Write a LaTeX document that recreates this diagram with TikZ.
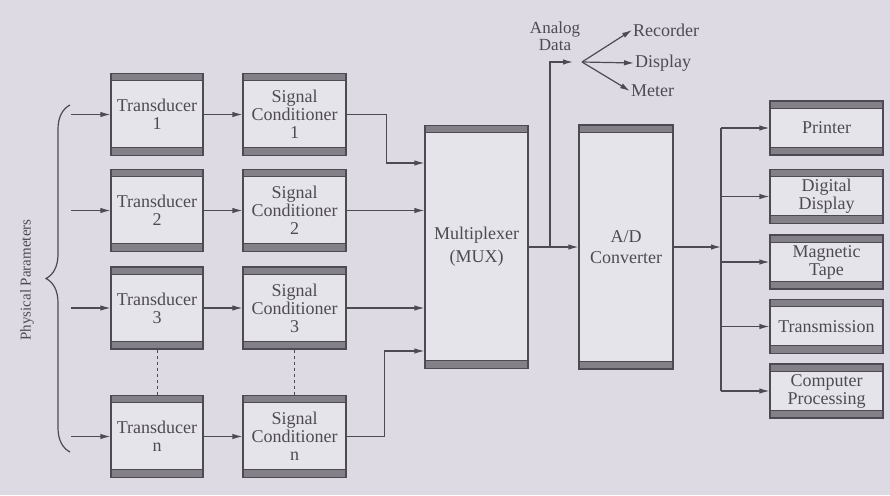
\documentclass[tikz,border=0pt]{standalone}
\usepackage{fontspec}
\setmainfont{Liberation Serif}
\usetikzlibrary{arrows.meta,positioning,calc,decorations.pathreplacing}
\definecolor{daqBg}{RGB}{221,218,228}
\definecolor{daqBox}{RGB}{230,228,235}
\definecolor{daqBand}{RGB}{132,128,136}
\definecolor{daqInk}{RGB}{78,74,84}
\begin{document}
\begin{tikzpicture}[
  x=1pt, y=-1pt,
  font=\fontsize{18}{18}\selectfont,
  every node/.style={text=daqInk},
  arr/.style={-{Latex[length=10pt,width=5.5pt]}, draw=daqInk, line width=1.2pt},
  daqbox/.style={draw=daqInk, line width=1.2pt, fill=daqBox, align=center, inner sep=0pt,
    path picture={
      \fill[daqBand] (path picture bounding box.north west) rectangle ([yshift=-7pt]path picture bounding box.north east);
      \fill[daqBand] (path picture bounding box.south west) rectangle ([yshift=8pt]path picture bounding box.south east);
      \draw[daqInk, line width=0.8pt] ([yshift=-7pt]path picture bounding box.north west) -- ([yshift=-7pt]path picture bounding box.north east);
      \draw[daqInk, line width=0.8pt] ([yshift=8pt]path picture bounding box.south west) -- ([yshift=8pt]path picture bounding box.south east);
    }}
]
% pixel grid of the reference: 890 x 495
\fill[daqBg] (0,0) rectangle (890,495);
% input chains
\foreach \r/\yy in {1/114.5, 2/210.5, 3/308, n/436.5} {
  \node[daqbox, minimum width=92, minimum height=82] (t\r) at (157,\yy) {Transducer\\\r};
  \node[daqbox, minimum width=103, minimum height=82] (sc\r) at (294.5,\yy) {Signal\\Conditioner\\\r};
  \draw[arr] ([xshift=-39pt]t\r.west) -- (t\r.west);
  \draw[arr] (t\r.east) -- (sc\r.west);
}
\draw[daqInk, dashed, line width=0.9pt] (t3.south) -- (tn.north);
\draw[daqInk, dashed, line width=0.9pt] (sc3.south) -- (scn.north);
\draw[daqInk, line width=1.2pt, decorate, decoration={brace, amplitude=24pt}] (70,452) -- (70,105);
\node[rotate=90, font=\fontsize{15}{15}\selectfont] (params) at (27,280) {Physical Parameters};
% multiplexer and converter
\node[daqbox, minimum width=103, minimum height=243] (mux) at (476.5,247) {Multiplexer\\[5pt](MUX)};
\node[daqbox, minimum width=94, minimum height=244] (adc) at (626,247) {A/D\\[3pt]Converter};
\draw[arr] (sc1.east) -- ++(40,0) |- ([yshift=84pt]mux.west);
\draw[arr] (sc2.east) -- (mux.west |- sc2.east);
\draw[arr] (sc3.east) -- (mux.west |- sc3.east);
\draw[arr] (scn.east) -- ++(38,0) |- ([yshift=-104pt]mux.west);
\draw[arr] (mux.east) -- (adc.west);
% analog branch
\coordinate (tap) at (550,247);
\coordinate (fanin) at (573,62);
\coordinate (fan) at (582,62);
\node[align=center, font=\fontsize{17}{17}\selectfont] (analog) at (555,36) {Analog\\Data};
\node[anchor=west, inner sep=1pt] (rec) at (632,30) {Recorder};
\node[anchor=west, inner sep=1pt] (disp) at (634,63) {Display};
\node[anchor=west, inner sep=1pt] (meter) at (630,91) {Meter};
\draw[arr] (tap) |- (fanin);
\foreach \d in {rec,disp,meter}
  \draw[arr] (fan) -- (\d.west);
% digital outputs
\foreach \o/\yy/\lab in {prn/128/Printer, ddisp/196.5/Digital\\Display, tape/262/Magnetic\\Tape, tx/326.5/Transmission, cpu/391/Computer\\Processing}
  \node[daqbox, minimum width=113, minimum height=54] (\o) at (826.5,\yy) {\lab};
\coordinate (bus) at (721,247);
\draw[arr] (adc.east) -- (bus);
\draw[daqInk, line width=1.2pt] (bus |- prn.west) -- (bus |- cpu.west);
\foreach \o in {prn,ddisp,tape,tx,cpu}
  \draw[arr] (bus |- \o.west) -- (\o.west);
\end{tikzpicture}
\end{document}
